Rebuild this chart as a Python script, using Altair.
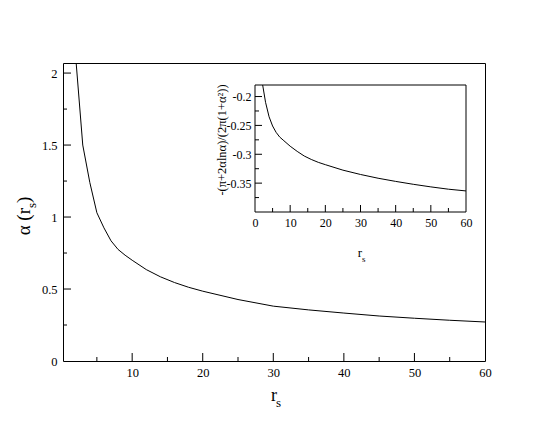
import altair as alt
import pandas as pd

# ---- data ----
main_r = [2, 3, 4, 5, 6, 7, 8, 9, 10, 12, 14, 16, 18, 20, 25, 30, 35, 40, 45, 50, 55, 60]
main_alpha = [2.11, 1.50, 1.24, 1.03, 0.925, 0.835, 0.775, 0.735, 0.70, 0.635, 0.585, 0.545,
              0.512, 0.485, 0.427, 0.381, 0.355, 0.333, 0.3125, 0.297, 0.283, 0.271]

inset_r = [2.18, 3, 4, 5, 6, 7, 8, 10, 12, 14, 16, 18, 20, 25, 30, 35, 40, 45, 50, 55, 60]
inset_v = [-0.18, -0.21, -0.235, -0.251, -0.262, -0.270, -0.2754, -0.286, -0.295, -0.303,
           -0.309, -0.314, -0.318, -0.3275, -0.335, -0.3415, -0.347, -0.352, -0.3565,
           -0.3605, -0.3635]

main_xticks_major = [10, 20, 30, 40, 50]
main_xticks_minor = [5, 15, 25, 35, 45, 55]
main_yticks_major = [0.5, 1, 1.5, 2]
main_yticks_minor = [0.25, 0.75, 1.25, 1.75]
main_xlabels = [10, 20, 30, 40, 50, 60]
main_ylabels = [0, 0.5, 1, 1.5, 2]

inset_xticks_major = [10, 20, 30, 40, 50]
inset_xticks_minor = [5, 15, 25, 35, 45, 55]
inset_yticks_major = [-0.2, -0.25, -0.3, -0.35]
inset_yticks_minor = [-0.225, -0.275, -0.325, -0.375]
inset_xlabels = [0, 10, 20, 30, 40, 50, 60]
inset_ylabels = [-0.2, -0.25, -0.3, -0.35]

W, H = 422, 298
FONT = "Liberation Serif"

main_x = alt.Scale(domain=[0.2, 60], nice=False, zero=False)
main_y = alt.Scale(domain=[0, 2.07], nice=False, zero=False)
IX0, IX1, IY0, IY1 = 192, 403, 149, 22
ins_x = alt.Scale(domain=[0, 60], range=[IX0, IX1], nice=False, zero=False)
ins_y = alt.Scale(domain=[-0.40, -0.18], range=[IY0, IY1], nice=False, zero=False)

dummy = pd.DataFrame({"d": [0]})


def txt(text, x, y, size, angle=0, align="left", dx=0, dy=0):
    return alt.Chart(dummy).mark_text(
        text=text, font=FONT, fontSize=size, angle=angle, align=align,
        dx=dx, dy=dy, baseline="alphabetic", color="black"
    ).encode(x=alt.value(x), y=alt.value(y))


def vticks(vals, scale, y0, length):
    df = pd.DataFrame({"v": vals})
    return alt.Chart(df).mark_rule(color="black", strokeWidth=1).encode(
        x=alt.X("v:Q", scale=scale, axis=None),
        y=alt.value(y0), y2=alt.value(y0 - length))


def hticks(vals, scale, x0, length):
    df = pd.DataFrame({"v": vals})
    return alt.Chart(df).mark_rule(color="black", strokeWidth=1).encode(
        y=alt.Y("v:Q", scale=scale, axis=None),
        x=alt.value(x0), x2=alt.value(x0 + length))


# ---- main panel ----
main_df = pd.DataFrame({"r": main_r, "a": main_alpha})
main_line = alt.Chart(main_df).mark_line(color="black", strokeWidth=1, clip=True).encode(
    x=alt.X("r:Q", scale=main_x, axis=alt.Axis(
        orient="bottom", values=main_xlabels, tickSize=0, domain=False, grid=False,
        title=None, labelFont=FONT, labelFontSize=12.5, labelColor="black",
        labelPadding=5, labelFlush=False, format="d")),
    y=alt.Y("a:Q", scale=main_y, axis=alt.Axis(
        orient="left", values=main_ylabels, tickSize=0, domain=False, grid=False,
        title=None, labelFont=FONT, labelFontSize=12.5, labelColor="black",
        labelPadding=6, labelFlush=False, format=".1~f")),
)

main_layer = alt.layer(
    vticks(main_xticks_major, main_x, H, 8),
    vticks(main_xticks_minor, main_x, H, 4),
    hticks(main_yticks_major, main_y, 0, 8),
    hticks(main_yticks_minor, main_y, 0, 4),
    main_line,
    # axis titles
    txt("α (r", -33, 145, 19, angle=270, align="right"),
    txt("s", -33, 145, 13, angle=270, align="left", dy=6),
    txt(")", -33, 145, 19, angle=270, align="left", dx=5),
    txt("r", 214, 338, 18, align="right"),
    txt("s", 214, 338, 13, align="left", dx=-1, dy=6),
).resolve_axis(x="independent", y="independent")

# ---- inset panel ----
frame_df = pd.DataFrame({"x0": [0], "x1": [60], "y0": [-0.40], "y1": [-0.18]})
inset_frame = alt.Chart(frame_df).mark_rect(fill="white", stroke="black", strokeWidth=1).encode(
    x=alt.X("x0:Q", scale=ins_x, axis=None), x2="x1:Q",
    y=alt.Y("y0:Q", scale=ins_y, axis=None), y2="y1:Q",
)

inset_df = pd.DataFrame({"r": inset_r, "v": inset_v})
inset_line = alt.Chart(inset_df).mark_line(color="black", strokeWidth=1).encode(
    x=alt.X("r:Q", scale=ins_x, axis=alt.Axis(
        orient="bottom", offset=-(H - IY0), values=inset_xlabels, tickSize=0,
        domain=False, grid=False, title=None, labelFont=FONT, labelFontSize=12,
        labelColor="black", labelPadding=5, labelFlush=False, format="d")),
    y=alt.Y("v:Q", scale=ins_y, axis=alt.Axis(
        orient="left", offset=-IX0, values=inset_ylabels, tickSize=0,
        domain=False, grid=False, title=None, labelFont=FONT, labelFontSize=12,
        labelColor="black", labelPadding=4, labelFlush=False,
        labelExpr="'-' + format(-datum.value, '.2~f')")),
)

inset_layer = alt.layer(
    inset_frame,
    vticks(inset_xticks_major, ins_x, IY0, 7),
    vticks(inset_xticks_minor, ins_x, IY0, 4),
    hticks(inset_yticks_major, ins_y, IX0, 7),
    hticks(inset_yticks_minor, ins_y, IX0, 4),
    inset_line,
    txt("-(π+2αlnα)/(2π(1+α²))", 163, 77, 12.5, angle=270, align="center"),
    txt("r", 299, 194, 13, align="right"),
    txt("s", 299, 194, 9, align="left", dx=0, dy=5),
).resolve_axis(x="independent", y="independent")

chart = alt.layer(main_layer, inset_layer).resolve_scale(
    x="independent", y="independent"
).properties(
    width=W, height=H,
    autosize=alt.AutoSizeParams(type="none"),
    padding={"left": 55, "top": 55, "right": 55, "bottom": 55},
).configure_view(stroke="black", strokeWidth=1
).configure_axis(labelFont=FONT, labelColor="black")

chart.save("out.html", embed_options={"renderer": "svg", "actions": False})
